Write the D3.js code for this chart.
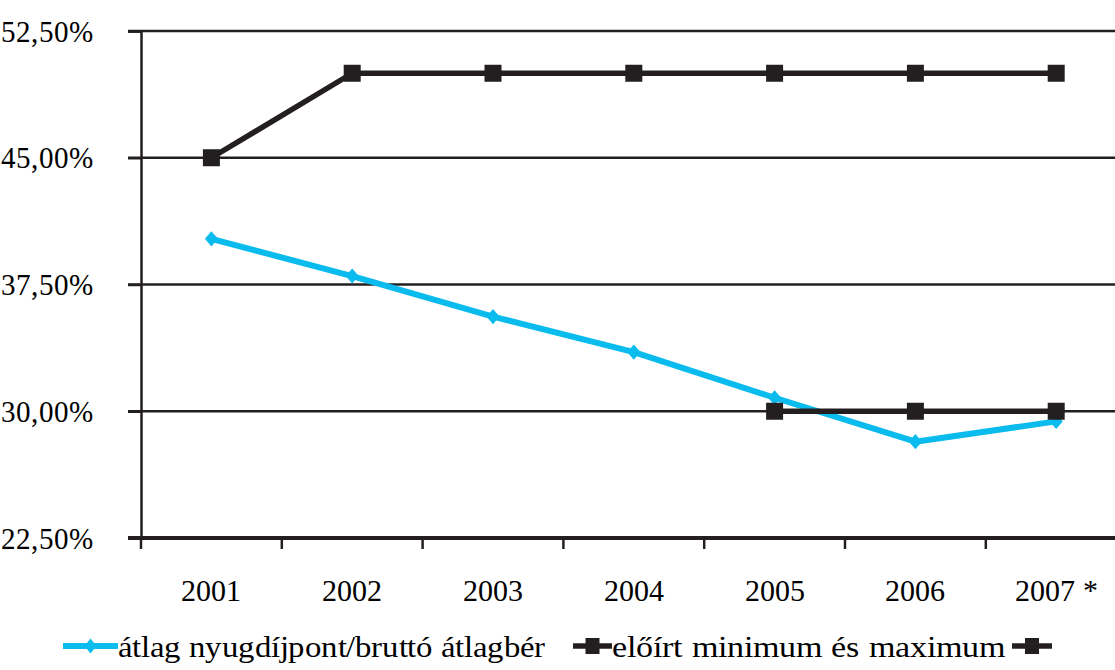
<!DOCTYPE html>
<html><head><meta charset="utf-8">
<script src="https://cdn.jsdelivr.net/npm/d3@7"></script>
<style>
@font-face { font-family: "ChartSerif"; src: local("Liberation Serif"), local("LiberationSerif"), local("Liberation Serif Regular"); }
</style>
</head>
<body style="margin:0">
<svg id="c" width="1115" height="670"></svg>
<script>
const categories = ["2001","2002","2003","2004","2005","2006","2007 *"];
const ratioValues = [40.2, 38.0, 35.6, 33.5, 30.8, 28.2, 29.4];
const maxValues = [45.0, 50.0, 50.0, 50.0, 50.0, 50.0, 50.0];
const minValues = [null, null, null, null, 30.0, 30.0, 30.0];
const yTicks = [22.5, 30, 37.5, 45, 52.5];
const legendLabels = ["átlag nyugdíjpont/bruttó átlagbér", "előírt minimum és maximum"];

(function(){
const fontNames = ["ChartSerif", "Liberation Serif"];
const famFn = () => `"${fontNames[0]}", "${fontNames[1]}", monospace`;
const svg = d3.select("#c");
const mLeft = 141, mTop = 31, mBottom = 538, bandW = 140.8;
const x = d3.scaleBand().domain(categories).range([mLeft, mLeft + bandW * categories.length]);
const y = d3.scaleLinear().domain([22.5, 52.5]).range([mBottom, mTop]);
const dark = "#231f20", blue = "#0abbee";
const fmt = v => d3.format(".2f")(v).replace(".", ",") + "%";

// gridlines
svg.append("g").selectAll("line").data(yTicks.filter(t => t !== 22.5)).join("line")
  .attr("x1", mLeft - 13).attr("x2", 1115)
  .attr("y1", d => y(d)).attr("y2", d => y(d))
  .attr("stroke", dark).attr("stroke-width", 2.5);

// y axis
const ya = svg.append("g").attr("transform", `translate(${mLeft},0)`)
  .call(d3.axisLeft(y).tickValues(yTicks).tickFormat(fmt).tickSize(13).tickPadding(35));
ya.attr("font-family", famFn).attr("font-size", 30);
ya.select(".domain").attr("stroke", dark).attr("stroke-width", 2.5);
ya.selectAll(".tick line").attr("stroke", dark).attr("stroke-width", 2.5);
ya.selectAll(".tick text").attr("font-family", famFn).attr("font-size", 31).attr("dy", "0.33em")
  .attr("textLength", 92).attr("lengthAdjust", "spacingAndGlyphs");

// x axis
const xa = svg.append("g").attr("transform", `translate(0,${mBottom})`)
  .call(d3.axisBottom(x).tickSize(0).tickPadding(42));
xa.attr("font-family", famFn).attr("font-size", 30);
xa.select(".domain").remove();
xa.selectAll(".tick text").attr("font-family", famFn).attr("font-size", 30);
svg.append("line").attr("x1", mLeft - 13).attr("x2", 1115).attr("y1", mBottom).attr("y2", mBottom)
  .attr("stroke", dark).attr("stroke-width", 4);
svg.append("g").selectAll("line").data(categories).join("line")
  .attr("x1", d => x(d)).attr("x2", d => x(d))
  .attr("y1", mBottom).attr("y2", mBottom + 11)
  .attr("stroke", dark).attr("stroke-width", 2.5);

const cx = d => x(d) + x.bandwidth() / 2;
const diamond = d3.symbol().type(d3.symbolDiamond2).size(110);

// blue series
const line = d3.line().defined(d => d.v !== null).x(d => cx(d.c)).y(d => y(d.v));
const blueData = categories.map((c, i) => ({c, v: ratioValues[i]}));
svg.append("path").datum(blueData).attr("d", line).attr("fill", "none")
  .attr("stroke", blue).attr("stroke-width", 6).attr("stroke-linejoin", "round");
svg.append("g").selectAll("path").data(blueData).join("path")
  .attr("d", diamond).attr("transform", d => `translate(${cx(d.c)},${y(d.v)}) scale(1,1.15)`)
  .attr("fill", blue);

// black series
[maxValues, minValues].forEach(arr => {
  const data = categories.map((c, i) => ({c, v: arr[i]}));
  svg.append("path").datum(data).attr("d", line).attr("fill", "none")
    .attr("stroke", dark).attr("stroke-width", 5.5).attr("stroke-linejoin", "round");
  svg.append("g").selectAll("rect").data(data.filter(d => d.v !== null)).join("rect")
    .attr("x", d => cx(d.c) - 8.5).attr("y", d => y(d.v) - 8.5)
    .attr("width", 17).attr("height", 17).attr("fill", dark);
});

// legend
const ly = 657;
function legendSwatch(x0, x1, color, kind) {
  const mid = (x0 + x1) / 2;
  svg.append("line").attr("x1", x0).attr("x2", x1).attr("y1", ly - 11).attr("y2", ly - 11)
    .attr("stroke", color).attr("stroke-width", kind === "sq" ? 5.5 : 6);
  if (kind === "sq") {
    svg.append("rect").attr("x", mid - 7).attr("y", ly - 11 - 8).attr("width", 14).attr("height", 16).attr("fill", color);
  } else {
    svg.append("path").attr("d", diamond).attr("transform", `translate(${mid},${ly - 11}) scale(0.9,1.15)`).attr("fill", color);
  }
}
legendSwatch(63, 118, blue, "di");
legendSwatch(573, 612, dark, "sq");
legendSwatch(1012, 1052, dark, "sq");
const legendX = [118, 612], legendW = [427, 393];
svg.selectAll("text.leg").data(legendLabels).join("text").attr("class", "leg")
  .attr("x", (d, i) => legendX[i]).attr("y", ly).attr("font-size", 30)
  .attr("font-family", famFn)
  .attr("textLength", (d, i) => legendW[i]).attr("lengthAdjust", "spacingAndGlyphs")
  .text(d => d);
})();
</script>
</body></html>
